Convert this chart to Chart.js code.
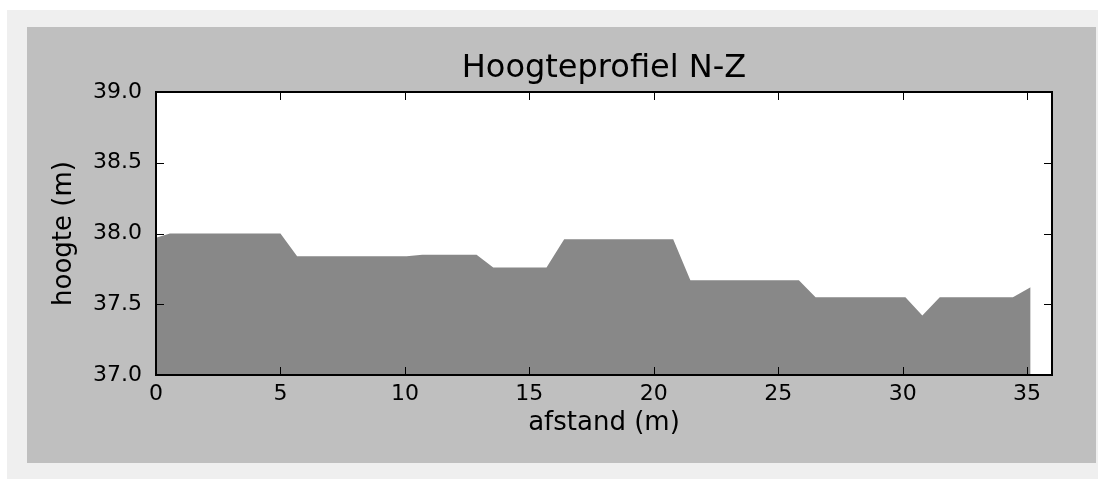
<!DOCTYPE html>
<html>
<head>
<meta charset="utf-8">
<script src="https://cdn.jsdelivr.net/npm/chart.js@4/dist/chart.umd.min.js"></script>
<style>
  body { margin: 0; background: #fff; width: 1098px; height: 479px; position: relative; overflow: hidden; }
  #frame { position: absolute; left: 7px; top: 10px; right: 0; bottom: 0; background: #efefef; }
  #panel { position: absolute; left: 27px; top: 27px; width: 1069px; height: 436px; background: #bfbfbf; }
</style>
</head>
<body>
<div id="frame"></div>
<div id="panel"><canvas id="chart"></canvas></div>
<script>
// profile breakpoints
const afstand = [0, 0.56, 5.0, 5.67, 10.07, 10.7, 12.88, 13.55, 15.69, 16.4, 20.78, 21.47, 25.83, 26.5, 30.11, 30.79, 31.49, 34.43, 35.14];
const hoogte = [37.97, 38.0, 38.0, 37.84, 37.84, 37.85, 37.85, 37.76, 37.76, 37.96, 37.96, 37.67, 37.67, 37.55, 37.55, 37.42, 37.55, 37.55, 37.62];

const xRange = [0, 36];
const yRange = [37, 39];
const titel = 'Hoogteprofiel N-Z';

const font = 'DejaVu Sans';

// white axes background, title centred over the axes
const axesBox = {
  id: 'axesBox',
  beforeDraw(chart) {
    const { ctx, chartArea: a } = chart;
    ctx.save();
    ctx.fillStyle = '#fff';
    ctx.fillRect(a.left, a.top, a.right - a.left, a.bottom - a.top);
    ctx.fillStyle = '#000';
    ctx.font = `32px "${font}"`;
    ctx.textAlign = 'center';
    ctx.textBaseline = 'alphabetic';
    ctx.fillText(titel, (a.left + a.right) / 2, a.top - 15);
    ctx.restore();
  }
};

// matplotlib-style frame with inward ticks on all four sides
const frameTicks = {
  id: 'frameTicks',
  afterDraw(chart) {
    const { ctx, chartArea: a, scales } = chart;
    const len = 8;
    ctx.save();
    ctx.strokeStyle = '#000';
    ctx.lineWidth = 1;
    ctx.beginPath();
    scales.x.ticks.forEach(t => {
      const px = Math.round(scales.x.getPixelForValue(t.value)) + 0.5;
      ctx.moveTo(px, a.bottom); ctx.lineTo(px, a.bottom - len);
      ctx.moveTo(px, a.top); ctx.lineTo(px, a.top + len);
    });
    scales.y.ticks.forEach(t => {
      const py = Math.round(scales.y.getPixelForValue(t.value)) + 0.5;
      ctx.moveTo(a.left, py); ctx.lineTo(a.left + len, py);
      ctx.moveTo(a.right, py); ctx.lineTo(a.right - len, py);
    });
    ctx.stroke();
    ctx.lineWidth = 2;
    ctx.strokeRect(a.left, a.top, a.right - a.left, a.bottom - a.top);
    ctx.restore();
  }
};

new Chart(document.getElementById('chart'), {
  type: 'line',
  data: {
    datasets: [{
      data: afstand.map((x, i) => ({ x, y: hoogte[i] })),
      fill: 'start',
      backgroundColor: '#888888',
      borderWidth: 0,
      pointRadius: 0,
      tension: 0
    }]
  },
  options: {
    responsive: true,
    maintainAspectRatio: false,
    animation: false,
    layout: { padding: { left: 0, top: 65, right: 44, bottom: 0 } },
    plugins: {
      legend: { display: false },
      tooltip: { enabled: false },
      title: { display: false }
    },
    scales: {
      x: {
        type: 'linear',
        min: xRange[0],
        max: xRange[1],
        afterFit: s => { s.height = 88; },
        grid: { display: false, drawTicks: false },
        border: { display: false },
        ticks: {
          stepSize: 5,
          includeBounds: false,
          padding: 6,
          color: '#000',
          maxRotation: 0,
          font: { family: font, size: 22 }
        },
        title: {
          display: true,
          text: 'afstand (m)',
          color: '#000',
          font: { family: font, size: 26 },
          padding: { top: 0, bottom: 24 }
        }
      },
      y: {
        min: yRange[0],
        max: yRange[1],
        afterFit: s => { s.width = 129; },
        grid: { display: false, drawTicks: false },
        border: { display: false },
        ticks: {
          stepSize: 0.5,
          padding: 14,
          color: '#000',
          font: { family: font, size: 22 },
          callback: v => v.toFixed(1)
        },
        title: {
          display: true,
          text: 'hoogte (m)',
          color: '#000',
          font: { family: font, size: 26 },
          padding: { top: 22, bottom: 0 }
        }
      }
    }
  },
  plugins: [axesBox, frameTicks]
});
</script>
</body>
</html>
